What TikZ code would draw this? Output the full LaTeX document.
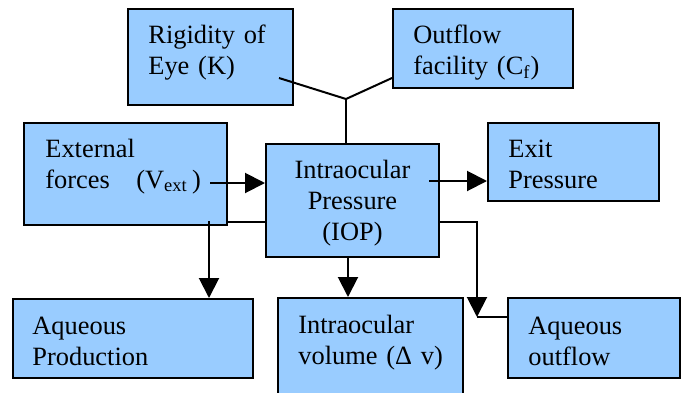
\documentclass[tikz,border=0pt]{standalone}
\usepackage{fontspec}
\setmainfont{Liberation Serif}
\usetikzlibrary{calc,arrows.meta}

\definecolor{boxblue}{HTML}{99CCFF}

\begin{document}
\begin{tikzpicture}[x=0.5pt,y=-0.5pt,
  box/.style={draw,line width=1pt,fill=boxblue,inner sep=0pt,anchor=north west},
  txt/.style={font=\fontsize{13.2}{15.6}\selectfont,inner sep=0pt,text width=100pt,align=left,anchor=base west},
  line/.style={line width=1pt},
  arr/.style={line width=1pt,-{Triangle[length=10pt,width=10pt]}}]

\useasboundingbox (0,0) rectangle (681,392);

% boxes
\node[box,minimum width=82.5pt,minimum height=48pt] (rig) at (127,8) {};
\node[box,minimum width=90pt,minimum height=39.5pt] (out) at (392,8) {};
\node[box,minimum width=101.5pt,minimum height=51pt] (ext) at (23,122) {};
\node[box,minimum width=86.5pt,minimum height=56.5pt] (iop) at (265,143) {};
\node[box,minimum width=85.5pt,minimum height=39pt] (exit) at (487,122) {};
\node[box,minimum width=120pt,minimum height=39.5pt] (aqp) at (12,298) {};
\node[box,minimum width=92.5pt,minimum height=49pt] (vol) at (277,297) {};
\node[box,minimum width=86pt,minimum height=40pt] (aqo) at (507,297) {};

% texts
\node[txt] (rig-t) at ($(rig.north west)+(21,35)$) {Rigidity of\\Eye (K)};
\node[txt] (out-t) at ($(out.north west)+(21,35)$) {Outflow\\facility (C\textsubscript{f})};
\node[txt] (ext-t) at ($(ext.north west)+(22,35)$) {External\\forces\ \ \ (V\textsubscript{ext}\,)};
\node[txt,text width=86.5pt,align=center,anchor=base] (iop-t) at ($(iop.north)+(0,35)$) {Intraocular\\Pressure\\(IOP)};
\node[txt] (exit-t) at ($(exit.north west)+(21,35)$) {Exit\\Pressure};
\node[txt] (aqp-t) at ($(aqp.north west)+(20,36)$) {Aqueous\\Production};
\node[txt] (vol-t) at ($(vol.north west)+(21,36)$) {Intraocular\\volume (Δ v)};
\node[txt] (aqo-t) at ($(aqo.north west)+(21,37)$) {Aqueous\\outflow};

% connectors
\coordinate (jn) at (346,99);
\draw[line] ($(rig.south east)+(-15,-28)$) -- (jn) -- ($(out.south west)+(0,-11)$);
\draw[line] (jn) -- (jn |- iop.north);

\coordinate (e1) at ($(ext.south east)+(-18,-43)$);
\draw[arr] (e1) -- (e1 -| iop.west);
\coordinate (e2) at ($(iop.north east)+(-11,38)$);
\draw[arr] (e2) -- (e2 -| exit.west);

\coordinate (e3) at ($(ext.south east)+(0,-4)$);
\draw[line] (e3) -- (e3 -| iop.west);
\coordinate (e4) at ($(ext.south east)+(-19,-5)$);
\draw[arr] (e4) -- (e4 |- aqp.north);

\coordinate (e5) at ($(iop.south)+(-4.5,0)$);
\draw[arr] (e5) -- (e5 |- vol.north);

\coordinate (e6) at ($(iop.south east)+(0,-36)$);
\coordinate (e7) at ($(aqo.north west)+(-30,20)$);
\draw[arr] (e6) -| (e7);
\draw[line] (e7) -- (e7 -| aqo.west);

\end{tikzpicture}
\end{document}
